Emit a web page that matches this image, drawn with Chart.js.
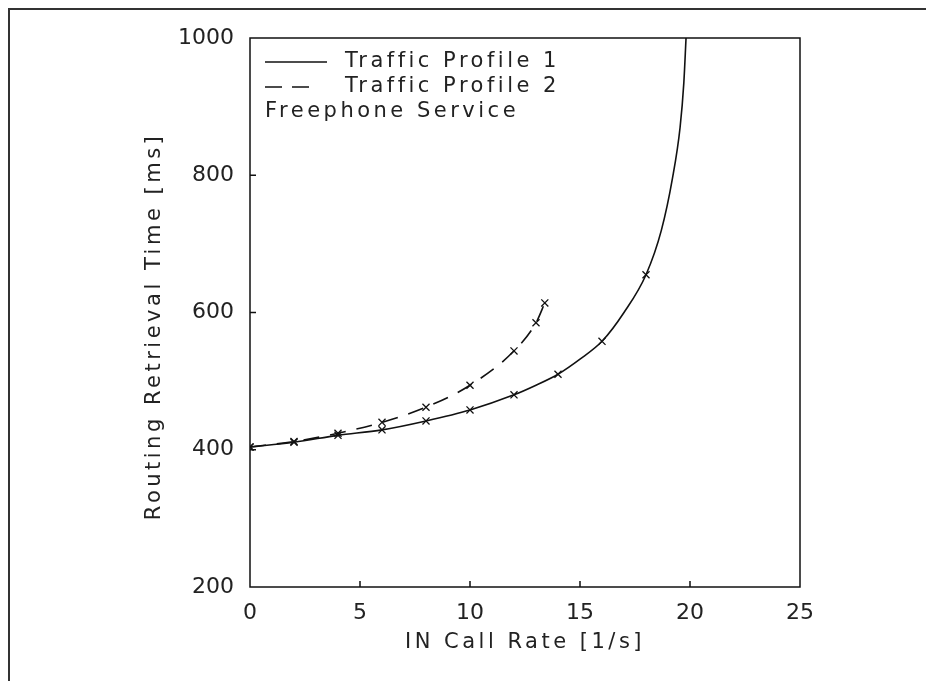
<!DOCTYPE html>
<html>
<head>
<meta charset="utf-8">
<script src="https://cdn.jsdelivr.net/npm/chart.js@4"></script>
<style>
    html, body { margin: 0; padding: 0; background: #fff; }
    #wrap { position: relative; width: 926px; height: 681px; overflow: hidden; }
    #frame {
        position: absolute; left: 8px; top: 8px; right: -4px; bottom: -4px;
        border-left: 2px solid #333; border-top: 2px solid #333;
    }
    canvas { position: absolute; left: 0; top: 0; }
</style>
</head>
<body>
<div id="wrap">
    <div id="frame"></div>
    <canvas id="chart" width="926" height="681"></canvas>
</div>
<script>
// Traffic Profile 1 - measured points (crosses) and the curve through them
const rate1Marks = [0, 2, 4, 6, 8, 10, 12, 14, 16, 18];
const time1Marks = [404, 411, 421, 429, 442, 458, 480, 510, 558, 655];
const rate1Curve = [0, 2, 4, 6, 8, 10, 12, 13, 14, 15, 16, 17, 18, 18.7, 19.2, 19.55, 19.72, 19.82];
const time1Curve = [404, 411, 421, 429, 442, 458, 480, 494, 510, 532, 558, 600, 655, 720, 795, 870, 935, 1000];

// Traffic Profile 2
const rate2Marks = [0, 2, 4, 6, 8, 10, 12, 13, 13.4];
const time2Marks = [404, 412, 424, 440, 462, 494, 544, 585, 614];

const xTicks = [0, 5, 10, 15, 20, 25];
const yTicks = [200, 400, 600, 800, 1000];

const xTitle = 'IN Call Rate [1/s]';
const yTitle = 'Routing Retrieval Time [ms]';
const legendRows = ['Traffic Profile 1', 'Traffic Profile 2', 'Freephone Service'];

const ink = '#111';
const textInk = '#222';
const fontFamily = '"DejaVu Sans", sans-serif';
const tickFont = { family: fontFamily, size: 22 };

const toPoints = (xs, ys) => xs.map((x, i) => ({ x: x, y: ys[i] }));

// frame, inward ticks, axis titles and the in-plot legend
const framePlugin = {
    id: 'frame',
    afterDatasetsDraw(chart) {
        const { ctx, chartArea: a, scales } = chart;
        ctx.save();
        ctx.strokeStyle = ink;
        ctx.lineWidth = 1.5;
        ctx.strokeRect(a.left, a.top, a.right - a.left, a.bottom - a.top);
        ctx.beginPath();
        xTicks.slice(1, -1).forEach(v => {
            const px = scales.x.getPixelForValue(v);
            ctx.moveTo(px, a.bottom);
            ctx.lineTo(px, a.bottom - 6);
        });
        yTicks.slice(1, -1).forEach(v => {
            const py = scales.y.getPixelForValue(v);
            ctx.moveTo(a.left, py);
            ctx.lineTo(a.left + 6, py);
        });
        ctx.stroke();

        ctx.fillStyle = textInk;
        ctx.letterSpacing = '3.5px';
        ctx.textBaseline = 'middle';

        // axis titles
        ctx.font = '21px ' + fontFamily;
        ctx.textAlign = 'center';
        ctx.fillText(xTitle, (a.left + a.right) / 2, 643);
        ctx.save();
        ctx.translate(155, (a.top + a.bottom) / 2 + 14);
        ctx.rotate(-Math.PI / 2);
        ctx.fillText(yTitle, 0, 0);
        ctx.restore();

        // legend
        const lx = a.left + 15;
        const ly = a.top + 24;
        const rowH = 25;
        ctx.lineWidth = 1.5;
        ctx.beginPath();
        ctx.moveTo(lx, ly);
        ctx.lineTo(lx + 62, ly);
        ctx.stroke();
        ctx.setLineDash([17, 10]);
        ctx.beginPath();
        ctx.moveTo(lx, ly + rowH);
        ctx.lineTo(lx + 44, ly + rowH);
        ctx.stroke();
        ctx.setLineDash([]);
        ctx.textAlign = 'left';
        ctx.fillText(legendRows[0], lx + 80, ly);
        ctx.fillText(legendRows[1], lx + 80, ly + rowH);
        ctx.fillText(legendRows[2], lx, ly + 2 * rowH);
        ctx.restore();
    }
};

new Chart(document.getElementById('chart'), {
    type: 'scatter',
    data: {
        datasets: [
            {
                label: 'Traffic Profile 1',
                data: toPoints(rate1Curve, time1Curve),
                showLine: true,
                borderColor: ink,
                borderWidth: 1.6,
                cubicInterpolationMode: 'monotone',
                pointRadius: 0
            },
            {
                label: 'Traffic Profile 1 points',
                data: toPoints(rate1Marks, time1Marks),
                pointStyle: 'crossRot',
                pointRadius: 5,
                borderColor: ink,
                borderWidth: 1.3
            },
            {
                label: 'Traffic Profile 2',
                data: toPoints(rate2Marks, time2Marks),
                showLine: true,
                borderColor: ink,
                borderWidth: 1.6,
                borderDash: [16, 11],
                cubicInterpolationMode: 'monotone',
                pointStyle: 'crossRot',
                pointRadius: 5,
                pointBorderWidth: 1.3
            }
        ]
    },
    options: {
        responsive: false,
        animation: false,
        layout: { padding: { left: 140, top: 38, right: 126, bottom: 0 } },
        plugins: {
            legend: { display: false },
            tooltip: { enabled: false }
        },
        scales: {
            x: {
                type: 'linear',
                min: 0,
                max: 25,
                afterBuildTicks: s => { s.ticks = xTicks.map(v => ({ value: v })); },
                afterFit: s => { s.height = 94; },
                grid: { display: false, drawTicks: false },
                border: { display: false },
                ticks: { color: textInk, font: tickFont, padding: 13, callback: v => String(v) }
            },
            y: {
                type: 'linear',
                min: 200,
                max: 1000,
                afterBuildTicks: s => { s.ticks = yTicks.map(v => ({ value: v })); },
                afterFit: s => { s.width = 110; },
                grid: { display: false, drawTicks: false },
                border: { display: false },
                ticks: { color: textInk, font: tickFont, padding: 16, callback: v => String(v) }
            }
        }
    },
    plugins: [framePlugin]
});
</script>
</body>
</html>
